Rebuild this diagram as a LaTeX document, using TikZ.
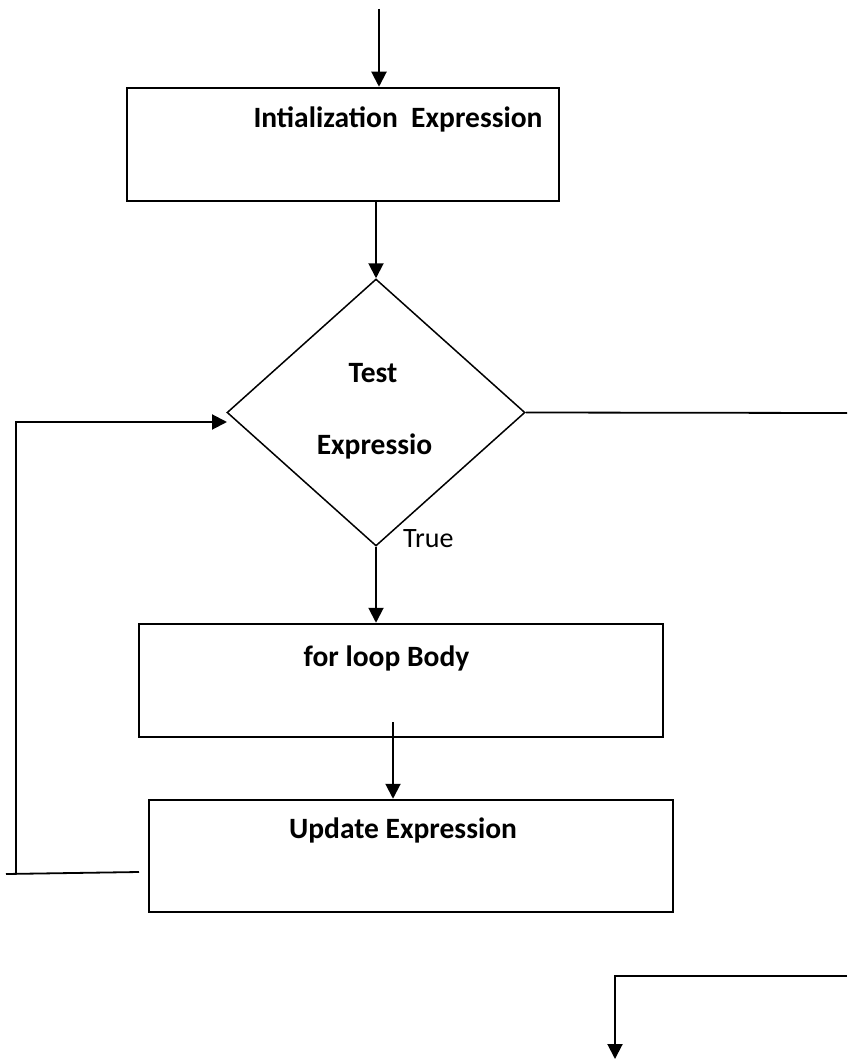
\documentclass[tikz,border=0pt]{standalone}
\usepackage{fontspec}
\setmainfont{Carlito}
\usetikzlibrary{arrows.meta,shapes.geometric}

\begin{document}
\begin{tikzpicture}[x=1pt,y=-1pt,
  box/.style={draw,line width=2.5pt,rectangle,inner sep=0pt},
  cond/.style={draw,line width=1.5pt,diamond,inner sep=0pt,
    minimum width=298pt,minimum height=267pt},
  arr/.style={line width=2pt,-{Triangle[length=15pt,width=15pt]}},
  wire/.style={line width=1.8pt},
  btxt/.style={font=\fontsize{29.5}{35}\selectfont\bfseries,inner sep=0pt,anchor=base},
  ntxt/.style={font=\fontsize{28}{34}\selectfont,inner sep=0pt,anchor=base west}]

\useasboundingbox (0,0) rectangle (847,1059);

% --- BLOCCHI ---
\node[box,minimum width=432pt,minimum height=113pt] (init) at (343,144.5) {};
\node[cond] (test) at (376,412.5) {};
\node[box,minimum width=524pt,minimum height=113pt] (body) at (401,680.5) {};
\node[box,minimum width=524pt,minimum height=112pt] (update) at (411,856) {};

% --- TESTI ---
\node[btxt] (inittxt) at (398,128) {Intialization\ \ Expression};
\node[btxt] (testtxt) at (373,382) {Test};
\node[btxt] (exprtxt) at (374.5,454) {Expressio};
\node[ntxt] (truetxt) at (403,547) {True};
\node[btxt] (bodytxt) at (386.5,666) {for loop Body};
\node[btxt] (updtxt) at (403,838) {Update Expression};

% --- PUNTI LIBERI ---
\coordinate (start) at (379,9);
\coordinate (exitR) at (847,413);
\coordinate (bodyout) at (393,722);
\coordinate (loopa) at (139,872);
\coordinate (loopb) at (6,874);
\coordinate (loopc) at (16,873);
\coordinate (loopd) at (227,422);
\coordinate (endR) at (847,976);
\coordinate (endD) at (615,1059);

% --- FRECCE ---
\draw[arr] (start) -- (start |- init.north);
\draw[arr] (init.south -| test.north) -- (test.north);
\draw[wire] (test.east) -- (exitR);
\draw[arr] (test.south) -- (test.south |- body.north);
\draw[arr] (bodyout) -- (bodyout |- update.north);

% --- RITORNO AL TEST ---
\draw[wire] (loopa) -- (loopb);
\draw[arr] (loopc) |- (loopd);

% --- USCITA ---
\draw[arr] (endR) -| (endD);

\end{tikzpicture}
\end{document}
